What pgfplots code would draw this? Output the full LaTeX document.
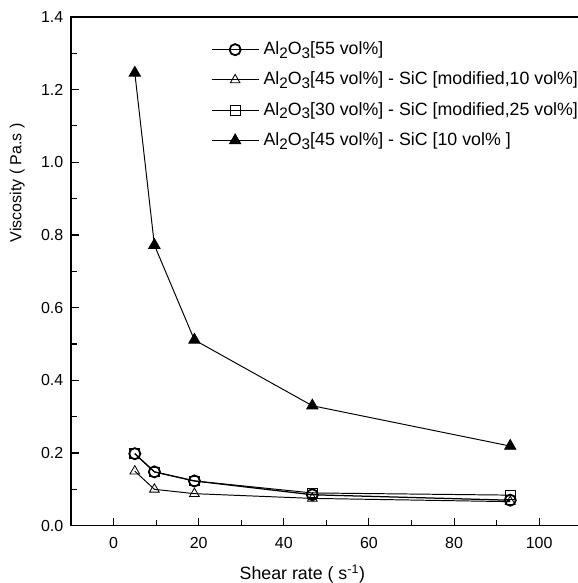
\documentclass[border=0pt]{standalone}
\usepackage{fontspec}
\setmainfont{Liberation Sans}
\usepackage{pgfplots}
\pgfplotsset{compat=1.18}
% near full-size subscript, as in the reference legend
\newcommand\sub[1]{\raisebox{-0.4ex}{\fontsize{11}{12}\selectfont #1}}

\begin{document}
\begin{tikzpicture}
\begin{axis}[
  scale only axis, width=367.8pt, height=366.3pt,
  xmin=-10, xmax=110, ymin=0, ymax=1.4,
  xtick={0,20,...,100}, minor x tick num=1,
  ytick={0,0.2,...,1.4}, minor y tick num=1,
  tick pos=left, tick align=inside,
  major tick length=5.5pt, minor tick length=4pt,
  every tick/.style={black, line width=0.8pt},
  axis line style={line width=0.9pt},
  /pgf/number format/assume math mode=true,
  ticklabel style={font=\fontsize{11.5}{13}\selectfont},
  yticklabel style={xshift=-2pt, /pgf/number format/.cd, fixed, fixed zerofill, precision=1},
  xticklabel style={yshift=-5pt},
  xlabel={Shear rate ( s\textsuperscript{-1})},
  ylabel={Viscosity ( Pa.s )},
  xlabel style={font=\fontsize{12.8}{14}\selectfont, at={(ticklabel cs:0.453)}, yshift=-5pt},
  ylabel style={font=\fontsize{11.5}{13}\selectfont, at={(ticklabel cs:0.674)}, yshift=5pt},
  legend cell align=left,
  legend style={draw=none, fill=none, inner sep=0pt, outer sep=0pt,
    at={(rel axis cs:0.274,0.952)}, anchor=north west,
    font=\fontsize{12.8}{14}\selectfont, row sep=9.8pt, column sep=3pt,
    nodes={inner sep=0pt, text height=9.5pt, text depth=2.5pt}},
  legend image code/.code={\draw[mark repeat=2,mark phase=2,#1] plot coordinates {(0pt,0pt) (17pt,0pt) (34pt,0pt)};},
]
\addplot[black, line width=0.9pt, mark=o, mark size=4pt, mark options={line width=1.3pt}]
  coordinates {(5,0.198) (9.6,0.148) (19,0.123) (46.7,0.085) (93.2,0.070)};
\addlegendentry{Al\sub{2}O\sub{3}[55 vol\%]}
\addplot[black, line width=0.7pt, mark=triangle, mark size=4pt, mark options={line width=0.6pt}]
  coordinates {(5,0.150) (9.6,0.100) (19,0.088) (46.7,0.075) (93.2,0.066)};
\addlegendentry{Al\sub{2}O\sub{3}[45 vol\%] - SiC [modified,10 vol\%]}
\addplot[black, line width=0.7pt, mark=square, mark size=3.5pt, mark options={line width=0.7pt}]
  coordinates {(5,0.198) (9.6,0.148) (19,0.123) (46.7,0.090) (93.2,0.084)};
\addlegendentry{Al\sub{2}O\sub{3}[30 vol\%] - SiC [modified,25 vol\%]}
\addplot[black, line width=0.7pt, mark=triangle*, mark size=4.6pt]
  coordinates {(5,1.246) (9.6,0.772) (19,0.511) (46.7,0.330) (93.2,0.219)};
\addlegendentry{Al\sub{2}O\sub{3}[45 vol\%] - SiC [10 vol\% ]}
\end{axis}
\pgfresetboundingbox
\useasboundingbox (-51.1pt,-41.3pt) rectangle (365pt,378.5pt);
\end{tikzpicture}
\end{document}
